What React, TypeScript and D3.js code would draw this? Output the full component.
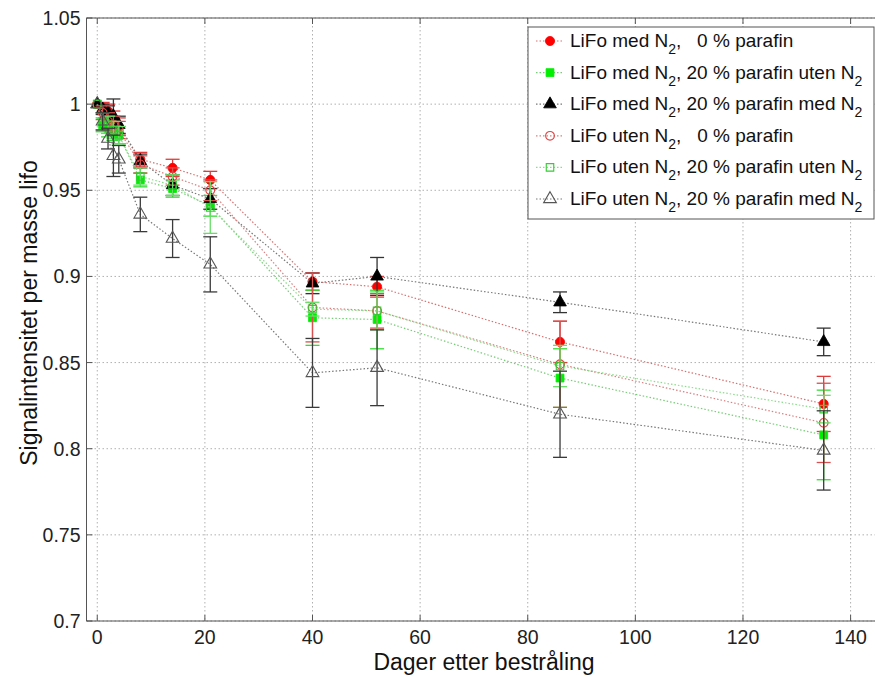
import React from 'react';
import * as d3 from 'd3';

// Days after irradiation
const days = [0, 1, 2, 3, 4, 8, 14, 21, 40, 52, 86, 135];

// Series values (signal intensity per mass)
const medN2_0 = [1.0, 0.998, 0.996, 0.991, 0.987, 0.968, 0.963, 0.956, 0.897, 0.894, 0.862, 0.826];
const medN2_0_err = [0, 0.003, 0.004, 0.005, 0.005, 0.004, 0.005, 0.005, 0.005, 0.006, 0.012, 0.016];

const medN2_20uten = [1.0, 0.988, 0.986, 0.984, 0.982, 0.956, 0.951, 0.941, 0.876, 0.875, 0.841, 0.808];
const medN2_20uten_err = [0, 0.004, 0.005, 0.005, 0.005, 0.004, 0.005, 0.006, 0.016, 0.017, 0.017, 0.026];

const medN2_20med = [1.0, 0.997, 0.995, 0.993, 0.988, 0.967, 0.953, 0.945, 0.896, 0.900, 0.885, 0.862];
const medN2_20med_err = [0, 0.003, 0.004, 0.010, 0.005, 0.004, 0.006, 0.006, 0.006, 0.011, 0.006, 0.008];

const utenN2_0 = [1.0, 0.995, 0.990, 0.988, 0.985, 0.965, 0.958, 0.950, 0.882, 0.880, 0.849, 0.815];
const utenN2_0_err = [0, 0.004, 0.005, 0.005, 0.005, 0.005, 0.005, 0.006, 0.020, 0.010, 0.025, 0.023];

const utenN2_20uten = [1.0, 0.990, 0.988, 0.985, 0.982, 0.958, 0.953, 0.940, 0.881, 0.880, 0.848, 0.823];
const utenN2_20uten_err = [0, 0.005, 0.005, 0.005, 0.005, 0.005, 0.006, 0.015, 0.004, 0.011, 0.012, 0.008];

const utenN2_20med = [1.0, 0.990, 0.980, 0.970, 0.968, 0.936, 0.922, 0.907, 0.844, 0.847, 0.820, 0.799];
const utenN2_20med_err = [0, 0.005, 0.006, 0.012, 0.008, 0.010, 0.011, 0.016, 0.020, 0.022, 0.025, 0.023];

const xTickValues = [0, 20, 40, 60, 80, 100, 120, 140];
const yTickValues = [0.7, 0.75, 0.8, 0.85, 0.9, 0.95, 1.0, 1.05];

type Part = { t: string; sub?: boolean };
const legendLabels: Part[][] = [
  [{ t: 'LiFo med N' }, { t: '2', sub: true }, { t: ',   0 % parafin' }],
  [{ t: 'LiFo med N' }, { t: '2', sub: true }, { t: ', 20 % parafin uten N' }, { t: '2', sub: true }],
  [{ t: 'LiFo med N' }, { t: '2', sub: true }, { t: ', 20 % parafin med N' }, { t: '2', sub: true }],
  [{ t: 'LiFo uten N' }, { t: '2', sub: true }, { t: ',   0 % parafin' }],
  [{ t: 'LiFo uten N' }, { t: '2', sub: true }, { t: ', 20 % parafin uten N' }, { t: '2', sub: true }],
  [{ t: 'LiFo uten N' }, { t: '2', sub: true }, { t: ', 20 % parafin med N' }, { t: '2', sub: true }],
];

type Series = {
  values: number[];
  err: number[];
  shape: 'circle' | 'square' | 'triangle';
  filled: boolean;
  color: string;
  lineColor: string;
  barColor: string;
};

const series: Series[] = [
  { values: medN2_0, err: medN2_0_err, shape: 'circle', filled: true, color: '#ff0000', lineColor: '#d97070', barColor: '#e03a3a' },
  { values: medN2_20uten, err: medN2_20uten_err, shape: 'square', filled: true, color: '#00ee00', lineColor: '#77cc77', barColor: '#33dd33' },
  { values: medN2_20med, err: medN2_20med_err, shape: 'triangle', filled: true, color: '#000000', lineColor: '#777777', barColor: '#333333' },
  { values: utenN2_0, err: utenN2_0_err, shape: 'circle', filled: false, color: '#dd4444', lineColor: '#d98080', barColor: '#d85050' },
  { values: utenN2_20uten, err: utenN2_20uten_err, shape: 'square', filled: false, color: '#33cc33', lineColor: '#88dd88', barColor: '#66dd66' },
  { values: utenN2_20med, err: utenN2_20med_err, shape: 'triangle', filled: false, color: '#555555', lineColor: '#777777', barColor: '#3a3a3a' },
];

function symbolPath(shape: Series['shape'], filled: boolean) {
  const type = shape === 'circle' ? d3.symbolCircle : shape === 'square' ? d3.symbolSquare : d3.symbolTriangle;
  const size = shape === 'circle' ? (filled ? 66 : 60) : shape === 'square' ? (filled ? 62 : 56) : 70;
  return d3.symbol().type(type).size(size)() as string;
}

function Marker({ s, cx, cy }: { s: Series; cx: number; cy: number }) {
  return (
    <path
      d={symbolPath(s.shape, s.filled)}
      transform={`translate(${cx},${cy})`}
      fill={s.filled ? s.color : 'none'}
      stroke={s.color}
      strokeWidth={s.filled ? 0.8 : 1.1}
    />
  );
}

export default function App() {
  React.useEffect(() => {
    document.body.style.margin = '0';
    document.body.style.overflow = 'hidden';
  }, []);

  const W = 875;
  const H = 677;
  const left = 86.5;
  const top = 18;
  const bottom = 621;
  const x = d3.scaleLinear().domain([-2, 145]).range([left, 877.5]);
  const y = d3.scaleLinear().domain([0.7, 1.05]).range([bottom, top]);
  const line = d3
    .line<number>()
    .x((_, i) => x(days[i]))
    .y((v) => y(v));

  const font = "'Liberation Sans', Arial, sans-serif";
  const capHalf = 7;

  const legX = 528;
  const legY = 27;
  const legW = 346;
  const legH = 192;
  const rowH = 31.6;

  return (
    <svg width={W} height={H} style={{ position: 'absolute', left: 0, top: 0, background: '#fff' }} fontFamily={font}>
      <rect x={0} y={0} width={W} height={H} fill="#ffffff" />
      {/* grid */}
      <g stroke="#b0b0b0" strokeWidth={1} strokeDasharray="1.5,2.5">
        {xTickValues.map((t) => (
          <line key={'gx' + t} x1={x(t)} x2={x(t)} y1={top} y2={bottom} />
        ))}
        {yTickValues.map((t) => (
          <line key={'gy' + t} x1={left} x2={W} y1={y(t)} y2={y(t)} />
        ))}
      </g>
      {/* axes frame */}
      <g stroke="#555" strokeWidth={1}>
        <line x1={left} x2={W} y1={bottom} y2={bottom} />
        <line x1={left} x2={W} y1={top} y2={top} />
        <line x1={left} x2={left} y1={top} y2={bottom} />
        {xTickValues.map((t) => (
          <g key={'tx' + t}>
            <line x1={x(t)} x2={x(t)} y1={bottom} y2={bottom - 6} />
            <line x1={x(t)} x2={x(t)} y1={top} y2={top + 6} />
          </g>
        ))}
        {yTickValues.map((t) => (
          <line key={'ty' + t} x1={left} x2={left + 6} y1={y(t)} y2={y(t)} />
        ))}
      </g>
      {/* tick labels */}
      <g fontSize={19.5} fill="#222">
        {xTickValues.map((t) => (
          <text key={'lx' + t} x={x(t)} y={bottom + 23} textAnchor="middle">
            {t}
          </text>
        ))}
        {yTickValues.map((t) => (
          <text key={'ly' + t} x={left - 6} y={y(t) + 7} textAnchor="end">
            {String(+t.toFixed(2))}
          </text>
        ))}
      </g>
      {/* axis labels */}
      <text x={484} y={670} textAnchor="middle" fontSize={23} fill="#111">
        Dager etter bestråling
      </text>
      <text
        transform={`translate(37,313) rotate(-90)`}
        textAnchor="middle"
        fontSize={23}
        fill="#111"
      >
        Signalintensitet per masse lifo
      </text>

      {/* data series */}
      {series.map((s, si) => (
        <g key={'s' + si}>
          <path d={line(s.values) as string} fill="none" stroke={s.lineColor} strokeWidth={1.2} strokeDasharray="1.5,2" />
          <g stroke={s.barColor} strokeWidth={1.3}>
            {s.values.map((v, i) =>
              s.err[i] > 0 ? (
                <g key={'e' + i}>
                  <line x1={x(days[i])} x2={x(days[i])} y1={y(v + s.err[i])} y2={y(v - s.err[i])} />
                  <line x1={x(days[i]) - capHalf} x2={x(days[i]) + capHalf} y1={y(v + s.err[i])} y2={y(v + s.err[i])} />
                  <line x1={x(days[i]) - capHalf} x2={x(days[i]) + capHalf} y1={y(v - s.err[i])} y2={y(v - s.err[i])} />
                </g>
              ) : null
            )}
          </g>
          {s.values.map((v, i) => (
            <Marker key={'m' + i} s={s} cx={x(days[i])} cy={y(v)} />
          ))}
        </g>
      ))}

      {/* legend */}
      <rect x={legX} y={legY} width={legW} height={legH} fill="#fff" stroke="#555" strokeWidth={1} />
      {series.map((s, i) => {
        const cy = legY + 14 + i * rowH;
        return (
          <g key={'lg' + i}>
            <line x1={legX + 8} x2={legX + 36} y1={cy} y2={cy} stroke={s.lineColor} strokeWidth={1.2} strokeDasharray="1.5,2" />
            <Marker s={s} cx={legX + 22} cy={cy} />
            <text x={legX + 42} y={cy + 6} fontSize={19} fill="#111" style={{ whiteSpace: 'pre' }}>
              {legendLabels[i].map((p, k) =>
                p.sub ? (
                  <tspan key={k} fontSize={14} dy={7}>
                    {p.t}
                  </tspan>
                ) : (
                  <tspan key={k} dy={k > 0 ? -7 : 0}>
                    {p.t}
                  </tspan>
                )
              )}
            </text>
          </g>
        );
      })}
    </svg>
  );
}
